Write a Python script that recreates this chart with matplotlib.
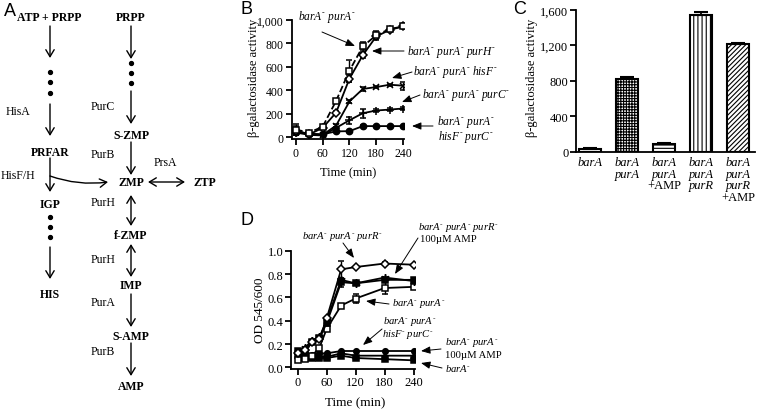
import matplotlib
matplotlib.use("Agg")
import matplotlib.pyplot as plt
import matplotlib.transforms as mtransforms
from matplotlib.ticker import FuncFormatter
import numpy as np

plt.rcParams["font.family"] = ["Liberation Serif", "DejaVu Serif"]
plt.rcParams["mathtext.fontset"] = "custom"
plt.rcParams["mathtext.rm"] = "Liberation Serif"
plt.rcParams["mathtext.it"] = "Liberation Serif:italic"
plt.rcParams["hatch.linewidth"] = 0.8

W, H = 757, 410

# --- panel B: beta-galactosidase over time ---
b_time = [0, 30, 60, 90, 120, 150, 180, 210, 240]
b_pura = [65, 40, 90, 310, 568, 775, 870, 923, 945]
b_pura_err = [45, 8, 10, 15, 95, 35, 40, 15, 10]
b_purh = [55, 25, 80, 210, 500, 700, 860, 915, 945]
b_purh_err = [40, 8, 10, 10, 30, 25, 20, 10, 10]
b_hisf = [50, 30, 20, 100, 305, 412, 428, 448, 440]
b_hisf_err = [30, 5, 5, 10, 10, 15, 10, 10, 35]
b_purc = [40, 20, 15, 80, 145, 205, 228, 236, 245]
b_purc_err = [25, 5, 5, 10, 30, 40, 10, 10, 10]
b_hisfpurc = [45, 30, 25, 50, 52, 95, 95, 95, 95]
b_hisfpurc_err = [20, 5, 5, 5, 5, 8, 5, 5, 5]

# --- panel C: bar chart ---
c_labels = [["barA"], ["barA", "purA"], ["barA", "purA", "+AMP"],
            ["barA", "purA", "purR"], ["barA", "purA", "purR", "+AMP"]]
c_values = [30, 820, 85, 1540, 1210]
c_err = [10, 20, 12, 40, 12]
c_hatch = ["", "++++++", "-----", "||||", "///////"]

# --- panel D: OD over time ---
d_time = [0, 15, 30, 45, 60, 90, 120, 180, 240]
d_purr = [0.12, 0.15, 0.22, 0.24, 0.42, 0.84, 0.86, 0.89, 0.88]
d_purr_err = [0.02, 0.01, 0.01, 0.01, 0.01, 0.07, 0.01, 0.01, 0.01]
d_purr_sq = [0.14, 0.13, 0.22, 0.25, 0.38, 0.73, 0.72, 0.75, 0.75]
d_purr_sq_err = [0.02, 0.01, 0.01, 0.01, 0.01, 0.04, 0.01, 0.01, 0.01]
d_purr_amp = [0.13, 0.17, 0.23, 0.26, 0.40, 0.75, 0.72, 0.77, 0.74]
d_pura = [0.06, 0.07, 0.10, 0.17, 0.33, 0.53, 0.59, 0.68, 0.69]
d_pura_err = [0.01, 0.01, 0.01, 0.01, 0.01, 0.01, 0.04, 0.05, 0.02]
d_hisfpurc = [0.13, 0.12, 0.11, 0.12, 0.12, 0.14, 0.14, 0.14, 0.14]
d_pura_amp = [0.10, 0.10, 0.10, 0.09, 0.09, 0.12, 0.10, 0.10, 0.10]
d_bara = [0.11, 0.08, 0.08, 0.08, 0.08, 0.10, 0.08, 0.07, 0.06]


def gene(s):
    # italic gene names with a small raised dash for mutants
    parts = []
    for w in s.split():
        parts.append(w[:-1] + r"^{\text{-}}" if w.endswith("-") else w)
    return "$" + r"\ ".join(parts) + "$"


def px_axes(fig, left, top, right, bottom):
    return fig.add_axes([left / W, 1 - bottom / H, (right - left) / W, (bottom - top) / H])


def style_axes(ax, size):
    for s in ("top", "right"):
        ax.spines[s].set_visible(False)
    for s in ("left", "bottom"):
        ax.spines[s].set_linewidth(1.3)
    ax.tick_params(direction="out", length=4, width=1.3, labelsize=size, pad=1.5)


fig = plt.figure(figsize=(W / 100, H / 100), dpi=100, facecolor="white")

ov = fig.add_axes([0, 0, 1, 1], zorder=10)
ov.set_xlim(0, W)
ov.set_ylim(H, 0)
ov.axis("off")
ov.patch.set_alpha(0)

# ---------------- Panel A: pathway diagram ----------------
ov.text(10, 12, "A", fontsize=13, family="Liberation Sans", ha="center", va="center")

bold = dict(fontsize=8.5, fontweight="bold", ha="center", va="center")
reg = dict(fontsize=8.5, ha="center", va="center")
arr = dict(arrowstyle="->,head_length=0.5,head_width=0.3", lw=1.0, color="black",
           shrinkA=0, shrinkB=0)
darr = dict(arrowstyle="<->,head_length=0.5,head_width=0.3", lw=1.0, color="black",
            shrinkA=0, shrinkB=0)


def down(x, y0, y1, style=arr):
    ov.annotate("", xy=(x, y1), xytext=(x, y0), arrowprops=style)


def dots(x, ys):
    ov.plot([x] * len(ys), ys, "o", color="black", ms=2.8)


ov.text(49, 18, "ATP + PRPP", **bold)
down(50, 27, 59)
dots(50, [73, 83, 94])
down(50, 105, 137)
ov.text(18, 112, "HisA", **reg)
ov.text(50, 153, "PRFAR", **bold)
ov.text(18, 176, "HisF/H", **reg)
down(50, 159, 193)
ov.annotate("", xy=(108, 183), xytext=(50, 177),
            arrowprops=dict(arr, connectionstyle="arc3,rad=0.12"))
ov.text(50, 205, "IGP", **bold)
dots(50, [218, 228, 238])
down(50, 248, 280)
ov.text(50, 295, "HIS", **bold)

ov.text(131, 18, "PRPP", **bold)
down(131, 27, 60)
dots(131, [64, 74, 84])
down(131, 92, 125)
ov.text(103, 107, "PurC", **reg)
ov.text(131, 136, "S-ZMP", **bold)
ov.text(103, 155, "PurB", **reg)
down(131, 143, 176)
ov.text(131, 183, "ZMP", **bold)
ov.text(165, 163, "PrsA", **reg)
ov.annotate("", xy=(185, 183), xytext=(148, 183), arrowprops=darr)
ov.text(205, 183, "ZTP", **bold)
ov.text(103, 203, "PurH", **reg)
down(131, 196, 227, darr)
ov.text(131, 236, "f-ZMP", **bold)
ov.text(103, 260, "PurH", **reg)
down(131, 245, 278, darr)
ov.text(131, 286, "IMP", **bold)
ov.text(103, 303, "PurA", **reg)
down(131, 295, 328)
ov.text(131, 337, "S-AMP", **bold)
ov.text(103, 352, "PurB", **reg)
down(131, 344, 377)
ov.text(131, 387, "AMP", **bold)

# ---------------- Panel B ----------------
axb = px_axes(fig, 291.5, 21, 404.3, 140)
style_axes(axb, 8.5)
eb = dict(color="black", lw=1.3, ms=4.5, mew=1.1, capsize=2.2, elinewidth=1.0, capthick=1.0)
axb.errorbar(b_time, b_hisfpurc, yerr=b_hisfpurc_err, marker="o", **eb)
axb.errorbar(b_time, b_purc, yerr=b_purc_err, marker="+", **dict(eb, ms=6))
axb.errorbar(b_time, b_hisf, yerr=b_hisf_err, marker="x", **eb)
axb.errorbar(b_time, b_purh, yerr=b_purh_err, marker="D", mfc="white", **dict(eb, ms=4))
axb.errorbar(b_time, b_pura, yerr=b_pura_err, marker="s", mfc="white", ls="--", **eb)
axb.set_xlim(-10, 243)
axb.set_ylim(-15, 1000)
axb.set_xticks([0, 60, 120, 180, 240])
axb.set_yticks(range(0, 1001, 200))
axb.yaxis.set_major_formatter(FuncFormatter(lambda v, p: f"{int(v):,}"))
ov.text(247, 10, "B", fontsize=13, family="Liberation Sans", ha="center", va="center")
ov.text(254, 78, "β-galactosidase activity", fontsize=9, rotation=90, ha="center", va="center")
ov.text(348, 173, "Time (min)", fontsize=9, ha="center", va="center")

tip = dict(arrowstyle="-|>,head_length=0.55,head_width=0.22", lw=0.7, color="black",
           shrinkA=0, shrinkB=0)
ov.annotate("", xy=(355, 47), xytext=(322, 33), arrowprops=tip)
ov.text(327, 17, gene("barA- purA-"), fontsize=8.3, ha="center", va="center")
ov.annotate("", xy=(372, 52), xytext=(404, 52), arrowprops=tip)
ov.text(407, 52, gene("barA- purA- purH-"), fontsize=8.3, ha="left", va="center")
ov.annotate("", xy=(392, 79), xytext=(412, 73), arrowprops=tip)
ov.text(413, 72, gene("barA- purA- hisF-"), fontsize=8.3, ha="left", va="center")
ov.annotate("", xy=(402, 103), xytext=(420, 96), arrowprops=tip)
ov.text(422, 95, gene("barA- purA- purC-"), fontsize=8.3, ha="left", va="center")
ov.annotate("", xy=(412, 127), xytext=(433, 127), arrowprops=tip)
ov.text(437, 122, gene("barA- purA-"), fontsize=8.3, ha="left", va="center")
ov.text(438, 137, gene("hisF- purC-"), fontsize=8.3, ha="left", va="center")

# ---------------- Panel C ----------------
axc = px_axes(fig, 576, 11, 755, 152.5)
style_axes(axc, 9)
xc = np.arange(len(c_values))
bars = axc.bar(xc, c_values, width=0.6, color="white", edgecolor="black", linewidth=1.5, zorder=3)
for b, h in zip(bars, c_hatch):
    b.set_hatch(h)
axc.errorbar(xc, c_values, yerr=[np.zeros(len(c_err)), c_err], fmt="none", ecolor="black",
             capsize=5, elinewidth=1.3, capthick=1.5, zorder=4)
axc.set_xlim(-0.38, 4.46)
axc.set_ylim(0, 1600)
axc.set_yticks(range(0, 1601, 400))
axc.yaxis.set_major_formatter(FuncFormatter(lambda v, p: f"{int(v):,}"))
axc.set_xticks(xc)
axc.set_xticklabels([])
axc.tick_params(axis="x", length=0)
lab_tr = mtransforms.blended_transform_factory(axc.transData, ov.transData)
line_y = [163, 175, 186, 198]
for i, lines in enumerate(c_labels):
    for j, word in enumerate(lines):
        style = "normal" if word.startswith("+") else "italic"
        ov.text(xc[i], line_y[j], word, transform=lab_tr, fontsize=9, style=style,
                ha="center", va="center")
ov.text(520, 10, "C", fontsize=13, family="Liberation Sans", ha="center", va="center")
ov.text(532, 78, "β-galactosidase activity", fontsize=9, rotation=90, ha="center", va="center")

# ---------------- Panel D ----------------
axd = px_axes(fig, 291, 251.7, 415, 369.5)
style_axes(axd, 9)
axd.errorbar(d_time, d_bara, marker="s", **dict(eb, ms=4))
axd.errorbar(d_time, d_pura_amp, marker="^", **dict(eb, ms=4.5))
axd.errorbar(d_time, d_hisfpurc, marker="o", **dict(eb, ms=4))
axd.errorbar(d_time, d_pura, yerr=d_pura_err, marker="s", mfc="white", **dict(eb, ms=5))
axd.errorbar(d_time, d_purr_amp, marker=(6, 2, 0), **dict(eb, ms=6))
axd.errorbar(d_time, d_purr_sq, yerr=d_purr_sq_err, marker="s", **dict(eb, ms=4))
axd.errorbar(d_time, d_purr, yerr=d_purr_err, marker="D", mfc="white", **dict(eb, ms=4))
axd.set_xlim(-14, 243)
axd.set_ylim(-0.01, 1.0)
axd.set_xticks([0, 60, 120, 180, 240])
axd.set_yticks(np.arange(0, 1.01, 0.2))
axd.yaxis.set_major_formatter(FuncFormatter(lambda v, p: f"{v:.1f}"))
ov.text(247, 221, "D", fontsize=13, family="Liberation Sans", ha="center", va="center")
ov.text(260, 310, "OD 545/600", fontsize=9.5, rotation=90, ha="center", va="center")
ov.text(355, 403, "Time (min)", fontsize=9.5, ha="center", va="center")

fs = 7.7
ov.annotate("", xy=(354, 259), xytext=(343, 244), arrowprops=tip)
ov.text(342, 237, gene("barA- purA- purR-"), fontsize=fs, ha="center", va="center")
ov.annotate("", xy=(395, 275), xytext=(418, 239), arrowprops=tip)
ov.text(418, 228, gene("barA- purA- purR-"), fontsize=fs, ha="left", va="center")
ov.text(420, 240, "100µM AMP", fontsize=fs, ha="left", va="center")
ov.annotate("", xy=(366, 302), xytext=(389, 305), arrowprops=tip)
ov.text(392, 304, gene("barA- purA-"), fontsize=fs, ha="left", va="center")
ov.annotate("", xy=(363, 346), xytext=(382, 330), arrowprops=tip)
ov.text(383, 322, gene("barA- purA-"), fontsize=fs, ha="left", va="center")
ov.text(382, 335, gene("hisF- purC-"), fontsize=fs, ha="left", va="center")
ov.annotate("", xy=(421, 352), xytext=(441, 350), arrowprops=tip)
ov.text(445, 343, gene("barA- purA-"), fontsize=fs, ha="left", va="center")
ov.text(445, 356, "100µM AMP", fontsize=fs, ha="left", va="center")
ov.annotate("", xy=(421, 364), xytext=(442, 369), arrowprops=tip)
ov.text(445, 369, gene("barA-"), fontsize=fs, ha="left", va="center")

fig.savefig("out.png", dpi=100)
plt.close(fig)
